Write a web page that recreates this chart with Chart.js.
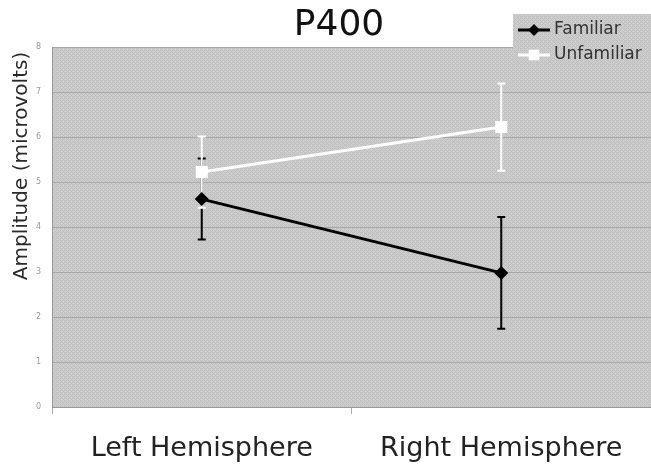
<!DOCTYPE html>
<html>
<head>
<meta charset="utf-8">
<script src="https://cdn.jsdelivr.net/npm/chart.js@4"></script>
<style>
  html, body { margin: 0; padding: 0; background: #fff; }
  #wrap { width: 651px; height: 466px; }
</style>
</head>
<body>
<div id="wrap"><canvas id="chart" width="651" height="466"></canvas></div>
<script>
const categories = ['Left Hemisphere', 'Right Hemisphere'];
const familiar = [4.62, 2.98];
const familiarErr = [0.9, 1.24];
const unfamiliar = [5.22, 6.22];
const unfamiliarErr = [0.79, 0.97];
const yTicks = [0, 1, 2, 3, 4, 5, 6, 7, 8];

const FONT = '"DejaVu Sans", Verdana, sans-serif';

// small woven grey texture for the plot background
function makePattern(ctx) {
    const c = document.createElement('canvas');
    c.width = 4; c.height = 4;
    const p = c.getContext('2d');
    p.fillStyle = '#cdcdcd';
    p.fillRect(0, 0, 4, 4);
    p.fillStyle = '#bfbfbf';
    [[0, 0], [1, 1], [2, 2], [3, 3], [2, 0], [0, 2]].forEach(([x, y]) => p.fillRect(x, y, 1, 1));
    return ctx.createPattern(c, 'repeat');
}

const backdrop = {
    id: 'backdrop',
    beforeDraw(chart) {
        const { ctx, chartArea: a } = chart;
        ctx.save();
        ctx.fillStyle = makePattern(ctx);
        ctx.fillRect(a.left, a.top, a.right - a.left, a.bottom - a.top);
        ctx.restore();
    }
};

const errorBars = {
    id: 'errorBars',
    beforeDatasetsDraw(chart) {
        const { ctx, scales: { x, y } } = chart;
        const sets = [[familiar, familiarErr, '#000'], [unfamiliar, unfamiliarErr, '#fff']];
        ctx.save();
        sets.forEach(([vals, errs, color]) => {
            ctx.strokeStyle = color;
            ctx.lineWidth = 2;
            vals.forEach((v, i) => {
                const px = x.getPixelForValue(i);
                const top = y.getPixelForValue(v + errs[i]);
                const bot = y.getPixelForValue(v - errs[i]);
                ctx.beginPath();
                ctx.moveTo(px, top); ctx.lineTo(px, bot);
                ctx.moveTo(px - 4, top); ctx.lineTo(px + 4, top);
                ctx.moveTo(px - 4, bot); ctx.lineTo(px + 4, bot);
                ctx.stroke();
            });
        });
        ctx.restore();
    }
};

const texts = {
    id: 'texts',
    afterDraw(chart) {
        const ctx = chart.ctx;
        ctx.save();
        // title
        ctx.fillStyle = '#111';
        ctx.font = '36px ' + FONT;
        ctx.textAlign = 'center';
        ctx.textBaseline = 'alphabetic';
        ctx.fillText('P400', 339, 35);

        // y axis title
        ctx.save();
        ctx.translate(22, 166);
        ctx.rotate(-Math.PI / 2);
        ctx.font = '20px ' + FONT;
        ctx.fillStyle = '#2a2a2a';
        ctx.textBaseline = 'middle';
        ctx.fillText('Amplitude (microvolts)', 0, 0);
        ctx.restore();

        // legend
        ctx.fillStyle = makePattern(ctx);
        ctx.fillRect(513, 14, 138, 50);
        ctx.textAlign = 'left';
        ctx.textBaseline = 'middle';
        ctx.font = '17px ' + FONT;
        chart.data.datasets.forEach((ds, i) => {
            const yy = 30 + i * 25;
            ctx.strokeStyle = ds.borderColor;
            ctx.lineWidth = 3;
            ctx.beginPath();
            ctx.moveTo(518, yy); ctx.lineTo(550, yy);
            ctx.stroke();
            ctx.fillStyle = ds.backgroundColor;
            Chart.helpers.drawPoint(ctx, { pointStyle: ds.pointStyle, radius: ds.pointRadius - 1, borderWidth: 0 }, 534, yy);
            ctx.fillStyle = '#333';
            ctx.fillText(ds.label, 554, yy);
        });
        ctx.restore();
    }
};

new Chart(document.getElementById('chart'), {
    type: 'line',
    data: {
        labels: categories,
        datasets: [
            { label: 'Familiar', data: familiar, borderColor: '#000', backgroundColor: '#000', borderWidth: 3,
              pointStyle: 'rectRot', pointRadius: 7, pointBorderWidth: 0 },
            { label: 'Unfamiliar', data: unfamiliar, borderColor: '#fff', backgroundColor: '#fff', borderWidth: 3,
              pointStyle: 'rect', pointRadius: 8.5, pointBorderWidth: 0 }
        ]
    },
    options: {
        responsive: false,
        animation: false,
        layout: { autoPadding: false, padding: { top: 47, left: 0, right: 0, bottom: 0 } },
        plugins: { legend: { display: false }, title: { display: false }, tooltip: { enabled: false } },
        scales: {
            x: {
                offset: true,
                afterFit: s => { s.height = 59; s.paddingLeft = 0; s.paddingRight = 0; },
                grid: { offset: true, drawOnChartArea: false, tickLength: 7, color: '#aaa' },
                border: { color: '#999' },
                ticks: { color: '#222', font: { family: FONT, size: 27 }, padding: 19, maxRotation: 0 }
            },
            y: {
                min: 0, max: 8,
                afterFit: s => { s.width = 52; },
                afterBuildTicks: s => { s.ticks = yTicks.map(v => ({ value: v })); },
                grid: { color: '#a8a8a8', drawTicks: false },
                border: { color: '#999' },
                ticks: { color: '#999', font: { family: FONT, size: 8 }, padding: 11 }
            }
        }
    },
    plugins: [backdrop, errorBars, texts]
});
</script>
</body>
</html>
